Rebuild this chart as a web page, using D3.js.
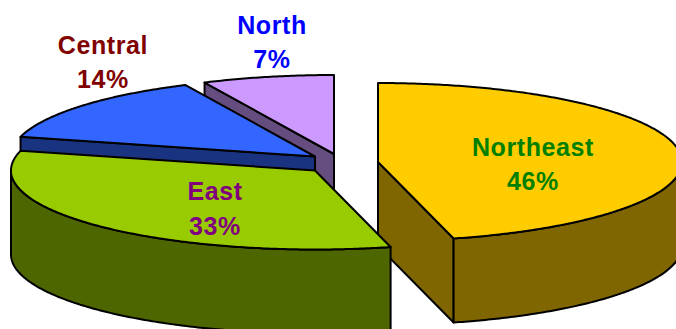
<!DOCTYPE html>
<html>
<head>
<meta charset="utf-8">
<script src="https://cdn.jsdelivr.net/npm/d3@7/dist/d3.min.js"></script>
<style>
  html, body { margin: 0; padding: 0; background: #fff; overflow: hidden; }
  text { font-family: "Liberation Sans", Arial, sans-serif; font-weight: bold; font-size: 25px; letter-spacing: 0.6px; text-anchor: middle; }
</style>
</head>
<body>
<svg id="chart" width="676" height="329"></svg>
<script>
// Regional shares, clockwise from twelve o'clock
const regions = ["Northeast", "East", "Central", "North"];
const shares = [46, 33, 14, 7];
const topColors = ["#FFCC00", "#99CC00", "#3366FF", "#CC99FF"];
const wallColors = ["#806600", "#4D6600", "#1A3380", "#664D80"];
const labelColors = ["#008000", "#800080", "#800000", "#0000FF"];

// Back-to-front painting sequence for the exploded slices
const paintOrder = ["North", "Central", "Northeast", "East"];

// Pie geometry
const centerX = 340, centerY = 160;
const radiusX = 304, radiusY = 79, depth = 84;
const explode = {
  Northeast: [38, 2],
  East: [-25, 10.5],
  Central: [-25, -3.5],
  North: [-6, -6]
};
const labelAnchors = {
  Northeast: [533, 156, 190],
  East: [215, 200, 235],
  Central: [103, 54, 88],
  North: [272, 34, 68]
};

const svg = d3.select("#chart");
const arcs = d3.pie().sort(null).startAngle(0).endAngle(2 * Math.PI)(shares);
const path = d3.line();

function project(name, angle, radiusShare, drop) {
  const [dx, dy] = explode[name];
  return [
    centerX + dx + radiusX * radiusShare * Math.sin(angle),
    centerY + dy - radiusY * radiusShare * Math.cos(angle) + drop
  ];
}

function rimAngles(a0, a1) {
  const n = Math.max(2, Math.ceil((a1 - a0) / 0.01));
  return d3.range(n + 1).map(i => a0 + (a1 - a0) * i / n);
}

function drawSlice(name) {
  const i = regions.indexOf(name);
  const { startAngle: a0, endAngle: a1 } = arcs[i];
  const g = svg.append("g").attr("stroke", "#000").attr("stroke-width", 2).attr("stroke-linejoin", "round");

  // Radial cut faces that look toward the viewer
  [[a0, Math.sin(a0) < -1e-6], [a1, Math.sin(a1) > 1e-6]].forEach(([a, visible]) => {
    if (!visible) return;
    g.append("path").attr("fill", wallColors[i]).attr("d", path([
      project(name, a, 0, 0), project(name, a, 1, 0),
      project(name, a, 1, depth), project(name, a, 0, depth)
    ]) + "Z");
  });

  // Outer wall along the front half of the rim
  const w0 = Math.max(a0, Math.PI / 2), w1 = Math.min(a1, 3 * Math.PI / 2);
  if (w1 > w0) {
    const rim = rimAngles(w0, w1);
    g.append("path").attr("fill", wallColors[i]).attr("d", path(
      rim.map(a => project(name, a, 1, 0)).concat(rim.slice().reverse().map(a => project(name, a, 1, depth)))
    ) + "Z");
  }

  // Top face
  g.append("path").attr("fill", topColors[i]).attr("d", path(
    [project(name, a0, 0, 0)].concat(rimAngles(a0, a1).map(a => project(name, a, 1, 0)))
  ) + "Z");
}

paintOrder.forEach(drawSlice);

// Two-line labels: region name over percentage
regions.forEach((name, i) => {
  const [x, y1, y2] = labelAnchors[name];
  svg.append("text").attr("x", x).attr("y", y1).attr("fill", labelColors[i]).text(name);
  svg.append("text").attr("x", x).attr("y", y2).attr("fill", labelColors[i]).text(shares[i] + "%");
});
</script>
</body>
</html>
